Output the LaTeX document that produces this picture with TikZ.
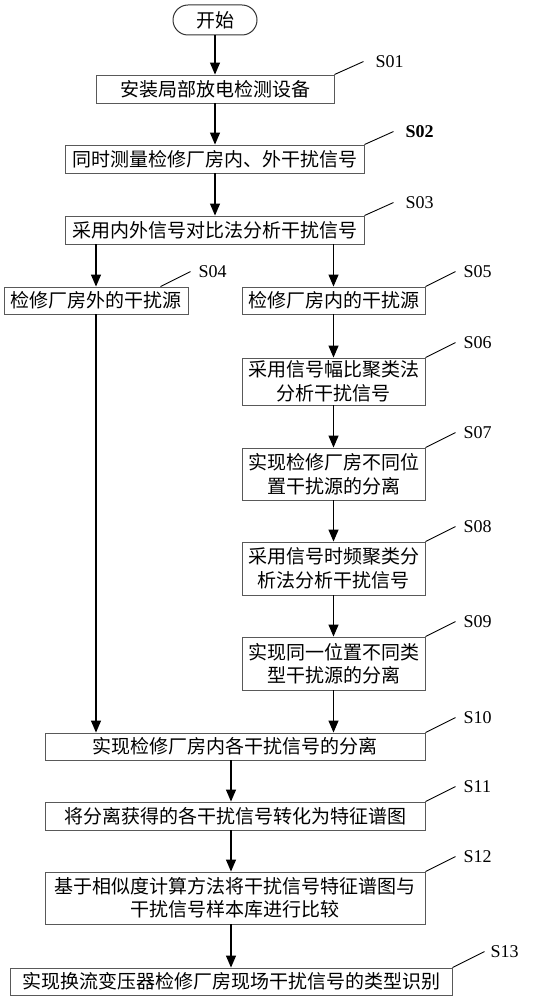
\documentclass[tikz,border=0pt]{standalone}
\usepackage{fontspec}
\setmainfont{Liberation Serif}
\newfontfamily\cjk{Noto Sans CJK SC}
\usetikzlibrary{arrows.meta,calc}
\begin{document}
\begin{tikzpicture}[x=1pt,y=-1pt,
  box/.style={draw=black!65, line width=0.9pt, inner sep=0pt, align=center,
              font=\cjk\fontsize{19}{23.5}\selectfont},
  arr/.style={line width=1.2pt, -{Triangle[length=12pt,width=10pt]}},
  lead/.style={line width=0.9pt},
  lab/.style={anchor=west, inner sep=0pt, font=\fontsize{18}{20}\selectfont}]
\useasboundingbox (0,0) rectangle (540,1000);

\node[box, rounded corners=15pt, line width=1pt, draw=black!80, minimum width=84pt, minimum height=30pt] (start) at (215,20) {开始};
\node[box, minimum width=238pt, minimum height=28pt] (s01) at (215,89) {安装局部放电检测设备};
\node[box, minimum width=299pt, minimum height=28pt] (s02) at (214.5,159) {同时测量检修厂房内、外干扰信号};
\node[box, minimum width=299pt, minimum height=28pt] (s03) at (214.5,230) {采用内外信号对比法分析干扰信号};
\node[box, minimum width=184pt, minimum height=27pt] (s04) at (96,300.5) {检修厂房外的干扰源};
\node[box, minimum width=183pt, minimum height=27pt] (s05) at (333.5,300.5) {检修厂房内的干扰源};
\node[box, minimum width=183pt, minimum height=47pt] (s06) at (333.5,381.5) {采用信号幅比聚类法\\分析干扰信号};
\node[box, minimum width=183pt, minimum height=52pt] (s07) at (333.5,474) {实现检修厂房不同位\\置干扰源的分离};
\node[box, minimum width=183pt, minimum height=53pt] (s08) at (333.5,568.5) {采用信号时频聚类分\\析法分析干扰信号};
\node[box, minimum width=183pt, minimum height=53pt] (s09) at (333.5,663.5) {实现同一位置不同类\\型干扰源的分离};
\node[box, minimum width=380pt, minimum height=27pt] (s10) at (235,746.5) {实现检修厂房内各干扰信号的分离};
\node[box, minimum width=380pt, minimum height=28pt] (s11) at (235,816) {将分离获得的各干扰信号转化为特征谱图};
\node[box, minimum width=380pt, minimum height=52pt] (s12) at (235,898) {基于相似度计算方法将干扰信号特征谱图与\\干扰信号样本库进行比较};
\node[box, minimum width=442pt, minimum height=27pt] (s13) at (231,981.5) {实现换流变压器检修厂房现场干扰信号的类型识别};

% arrows
\draw[arr] (start) -- (s01);
\draw[arr] (s01.south -| start) -- (s02.north -| start);
\draw[arr] (s02.south -| start) -- (s03.north -| start);
\draw[arr] (s03.south -| s04) -- (s04);
\draw[arr] (s03.south -| s05) -- (s05);
\draw[arr] (s05) -- (s06);
\draw[arr] (s06) -- (s07);
\draw[arr] (s07) -- (s08);
\draw[arr] (s08) -- (s09);
\draw[arr] (s04) -- (s04 |- s10.north);
\draw[arr] (s09) -- (s09 |- s10.north);
\draw[arr] (s10.south -| s13) -- (s11.north -| s13);
\draw[arr] (s11.south -| s13) -- (s12.north -| s13);
\draw[arr] (s12.south -| s13) -- (s13);

% leaders and labels
\draw[lead] (s01.north east) -- ++(29,-13) coordinate (l01);
\node[lab] (t01) at ($(l01)+(12,0)$) {S01};
\draw[lead] (s02.north east) -- ++(29,-13) coordinate (l02);
\node[lab, font=\bfseries\fontsize{18}{20}\selectfont] (t02) at ($(l02)+(12,0)$) {S02};
\draw[lead] (s03.north east) -- ++(29,-13) coordinate (l03);
\node[lab] (t03) at ($(l03)+(12,0)$) {S03};
\draw[lead] ($(s04.north east)+(-28,0)$) -- ++(30,-15) coordinate (l04);
\node[lab] (t04) at ($(l04)+(8,0)$) {S04};
\draw[lead] (s05.north east) -- ++(30,-15) coordinate (l05);
\node[lab] (t05) at ($(l05)+(8,0)$) {S05};
\draw[lead] (s06.north east) -- ++(30,-15) coordinate (l06);
\node[lab] (t06) at ($(l06)+(8,0)$) {S06};
\draw[lead] (s07.north east) -- ++(30,-15) coordinate (l07);
\node[lab] (t07) at ($(l07)+(8,0)$) {S07};
\draw[lead] (s08.north east) -- ++(30,-15) coordinate (l08);
\node[lab] (t08) at ($(l08)+(8,0)$) {S08};
\draw[lead] (s09.north east) -- ++(30,-15) coordinate (l09);
\node[lab] (t09) at ($(l09)+(8,0)$) {S09};
\draw[lead] (s10.north east) -- ++(30,-15) coordinate (l10);
\node[lab] (t10) at ($(l10)+(8,0)$) {S10};
\draw[lead] (s11.north east) -- ++(30,-15) coordinate (l11);
\node[lab] (t11) at ($(l11)+(8,0)$) {S11};
\draw[lead] (s12.north east) -- ++(30,-15) coordinate (l12);
\node[lab] (t12) at ($(l12)+(8,0)$) {S12};
\draw[lead] (s13.north east) -- ++(32,-16) coordinate (l13);
\node[lab] (t13) at ($(l13)+(6,0)$) {S13};
\end{tikzpicture}
\end{document}
